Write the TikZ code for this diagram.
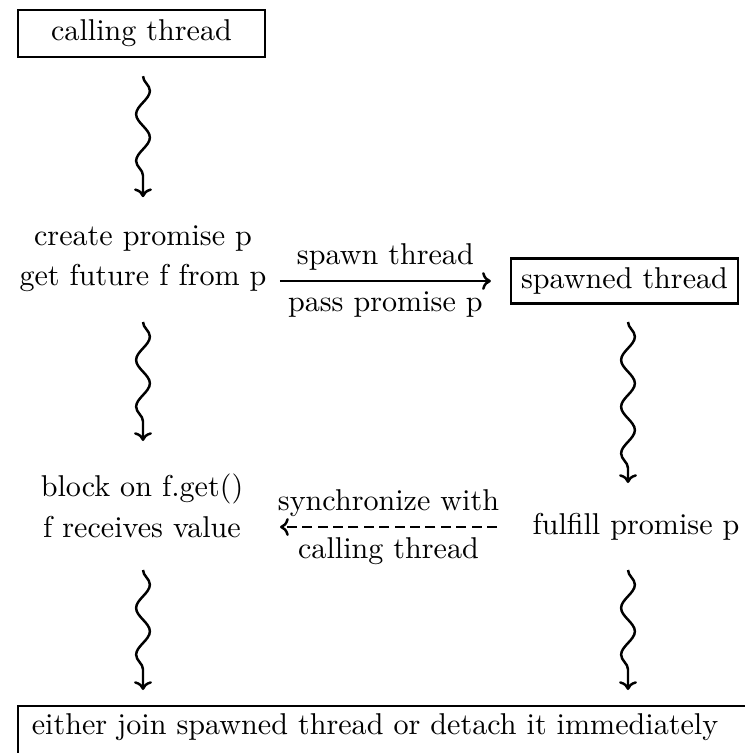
\documentclass[tikz,border=0pt]{standalone}
\usetikzlibrary{decorations.pathmorphing,calc,arrows.meta}

\begin{document}
\begin{tikzpicture}[
  x=0.3636pt, y=-0.3636pt,
  every node/.style={font=\fontsize{10.95}{13.6}\selectfont},
  threadbox/.style={draw, line width=0.85pt, align=center},
  plain/.style={align=center},
  wavy/.style={line width=0.9pt, -{To[length=3.2pt,width=6.5pt]},
    decorate, decoration={snake, amplitude=2.5pt, segment length=17pt, post length=2pt}},
  flow/.style={line width=0.9pt, -{To[length=3.2pt,width=6.5pt]}},
  syncflow/.style={flow, dash pattern=on 3.6pt off 2pt}
]
  \useasboundingbox (0,0) rectangle (745,753);

  % threads and steps
  \node[threadbox, minimum width=89.8pt, minimum height=17.1pt] (ct) at (141.5,33.5) {calling thread};
  \node[plain] (cp) at (143,258.5) {create promise p\\[1.0pt]get future f from p};
  \node[threadbox, minimum width=82.5pt, minimum height=16pt] (sp) at (624.5,281) {spawned thread};
  \node[plain] (bl) at (142,506) {block on f.get()\\[1.4pt]f receives value};
  \node[plain] (ff) at (636,527) {fulfill promise p};
  \node[plain] (ej) at (375,727) {either join spawned thread or detach it immediately};
  \draw[line width=0.85pt] (18,706) rectangle (780,780);

  % control flow within each thread
  \draw[wavy] ($(ct.south)+(1.5,18)$) -- ($(ct.south)+(1.5,139)$);
  \draw[wavy] ($(cp.center)+(0,63.5)$) -- ($(cp.center)+(0,182.5)$);
  \draw[wavy] ($(sp.center)+(3.5,41)$) -- ($(sp.center)+(3.5,202)$);
  \draw[wavy] ($(bl.center)+(1,64)$) -- ($(bl.center)+(1,184)$);
  \draw[wavy] ($(ff.center)+(-8,43)$) -- ($(ff.center)+(-8,163)$);

  % interaction between the threads
  \draw[flow] ($(sp.west)+(-230,0)$) -- ($(sp.west)+(-19,0)$)
    node[midway, above] {spawn thread}
    node[midway, below] {pass promise p};
  \draw[syncflow] ($(ff.center)+(-139,0)$) -- ($(ff.center)+(-356,0)$)
    node[midway, above] {synchronize with}
    node[midway, below] {calling thread};
\end{tikzpicture}
\end{document}
